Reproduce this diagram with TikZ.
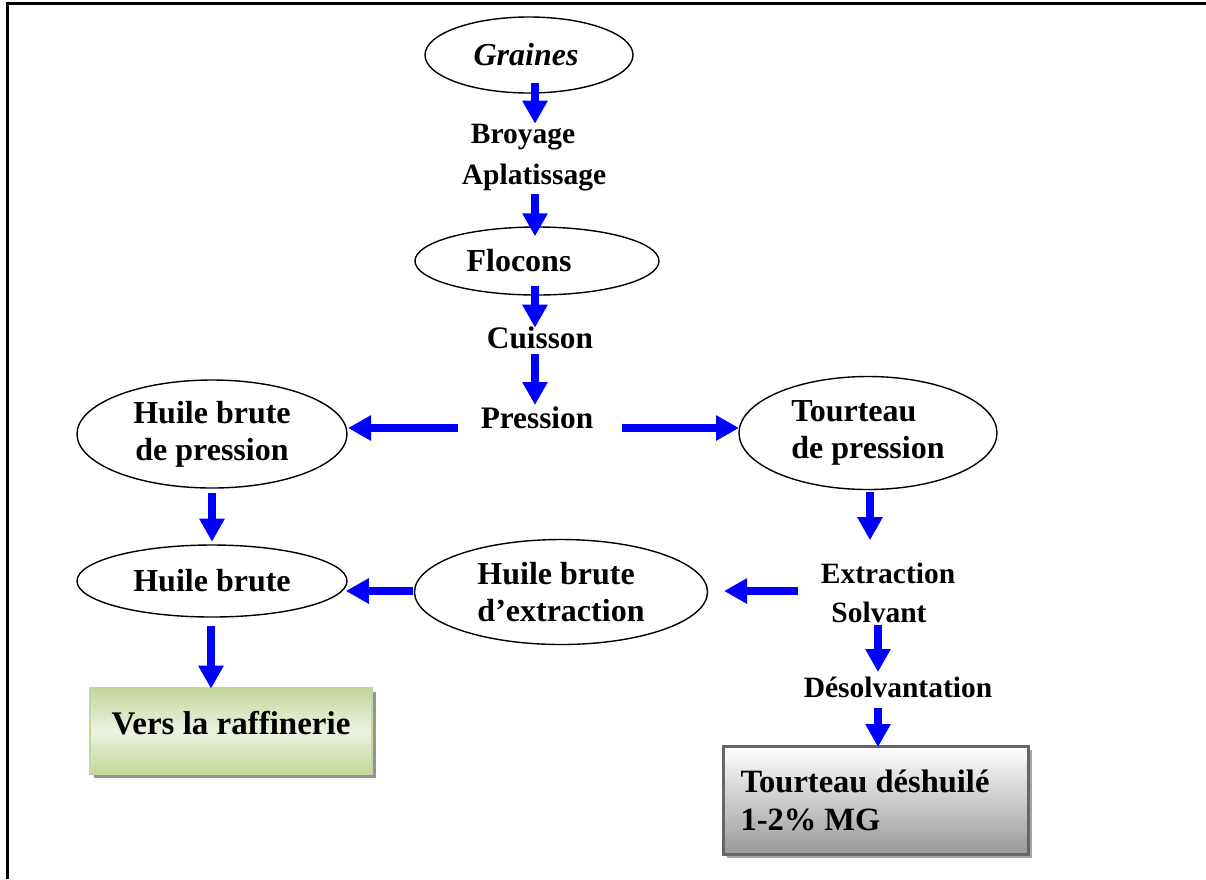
\documentclass[tikz,border=0pt]{standalone}
\usepackage{fontspec}
\setmainfont{Liberation Serif}
\usetikzlibrary{shapes.geometric,arrows.meta}
\definecolor{arrblue}{RGB}{0,0,255}
\definecolor{gA}{RGB}{196,214,155}
\definecolor{gB}{RGB}{236,242,224}
\definecolor{gBorder}{RGB}{195,214,155}
\definecolor{shadowc}{RGB}{150,150,140}
\tikzset{
  arr/.style={draw=arrblue, line width=7.5pt, -{Triangle[length=23pt,width=24pt]}},
  oval/.style={ellipse, draw=black, line width=1.4pt, inner sep=0pt, align=center,
     font=\fontsize{32}{37}\selectfont\bfseries},
  lbl/.style={inner sep=0pt, font=\fontsize{29.5}{34}\selectfont\bfseries},
  biglbl/.style={inner sep=0pt, font=\fontsize{31.3}{36}\selectfont\bfseries},
}
\begin{document}
\begin{tikzpicture}[x=1pt,y=-1pt]
\useasboundingbox (0,0) rectangle (1206,879);
% frame
\draw[line width=3pt] (7,879) -- (7,3) -- (1206,3);
% ellipses
\node[oval, minimum width=208pt, minimum height=76pt] (graines) at (529,55) {\itshape Graines\hspace{6pt}};
\node[oval, minimum width=244pt, minimum height=68pt] (flocons) at (537,261) {Flocons\hspace{36pt}};
\node[oval, minimum width=270pt, minimum height=108pt] (hbp) at (212,434) {Huile brute\\de pression};
\node[oval, minimum width=258pt, minimum height=113pt, align=left] (tp) at (868,433) {Tourteau\\de pression};
\node[oval, minimum width=270pt, minimum height=72pt] (hb) at (212,581) {Huile brute};
\node[oval, minimum width=293pt, minimum height=105pt, align=left] (hbe) at (561,592) {Huile brute\\d’extraction};
% labels
\node[lbl] (broyage) at (523,137) {Broyage};
\node[lbl] (aplat) at (534,178) {Aplatissage};
\node[biglbl] (cuisson) at (540,338) {Cuisson};
\node[biglbl] (pression) at (537,418) {Pression};
\node[lbl] (extraction) at (888,573) {Extraction};
\node[lbl] (solvant) at (879,612) {Solvant};
\node[lbl] (desolv) at (898,687) {Désolvantation};
% boxes
\fill[shadowc] (94,692) rectangle (376,778);
\shade[top color=gA, bottom color=gA, middle color=gB] (90,688) rectangle (372,774);
\node[draw=gBorder, line width=1.5pt, minimum width=282pt, minimum height=86pt, inner sep=0pt,
  font=\fontsize{33}{38}\selectfont\bfseries, text depth=17pt] (vers) at (231,731) {Vers la raffinerie\hspace{6pt}};
\fill[gray!70] (727,750) rectangle (1032,858);
\shade[top color=white, bottom color=black!40] (723,746) rectangle (1028,854);
\node[draw=black!60, line width=3pt, minimum width=305pt, minimum height=108pt, inner sep=0pt,
  text width=270pt, align=flush left, font=\fontsize{32.5}{38}\selectfont\bfseries] (tdes) at (875.5,800)
  {Tourteau déshuilé\\1-2\% MG};
% arrows
\draw[arr] ([shift={(6,-11)}]graines.south) -- ++(0,41);
\draw[arr] ([shift={(-2,-32)}]flocons.north) -- ++(0,42);
\draw[arr] ([shift={(-2,-10)}]flocons.south) -- ++(0,42);
\draw[arr] ([shift={(-5,16)}]cuisson.center) -- ++(0,51);
\draw[arr] ([shift={(-79,10)}]pression.center) -- ++(-110,0);
\draw[arr] ([shift={(85,10)}]pression.center) -- ++(117,0);
\draw[arr] ([shift={(0,4)}]hbp.south) -- ++(0,49);
\draw[arr] ([shift={(2,2)}]tp.south) -- ++(0,48);
\draw[arr] ([shift={(-81,-21)}]solvant.center) -- ++(-74,0);
\draw[arr] ([shift={(-1,-1)}]hbe.west) -- ++(-67,0);
\draw[arr] ([shift={(-1,8)}]hb.south) -- ++(0,63);
\draw[arr] ([shift={(-1,13)}]solvant.center) -- ++(0,47);
\draw[arr] ([shift={(-20,21)}]desolv.center) -- ++(0,39);
\end{tikzpicture}
\end{document}
